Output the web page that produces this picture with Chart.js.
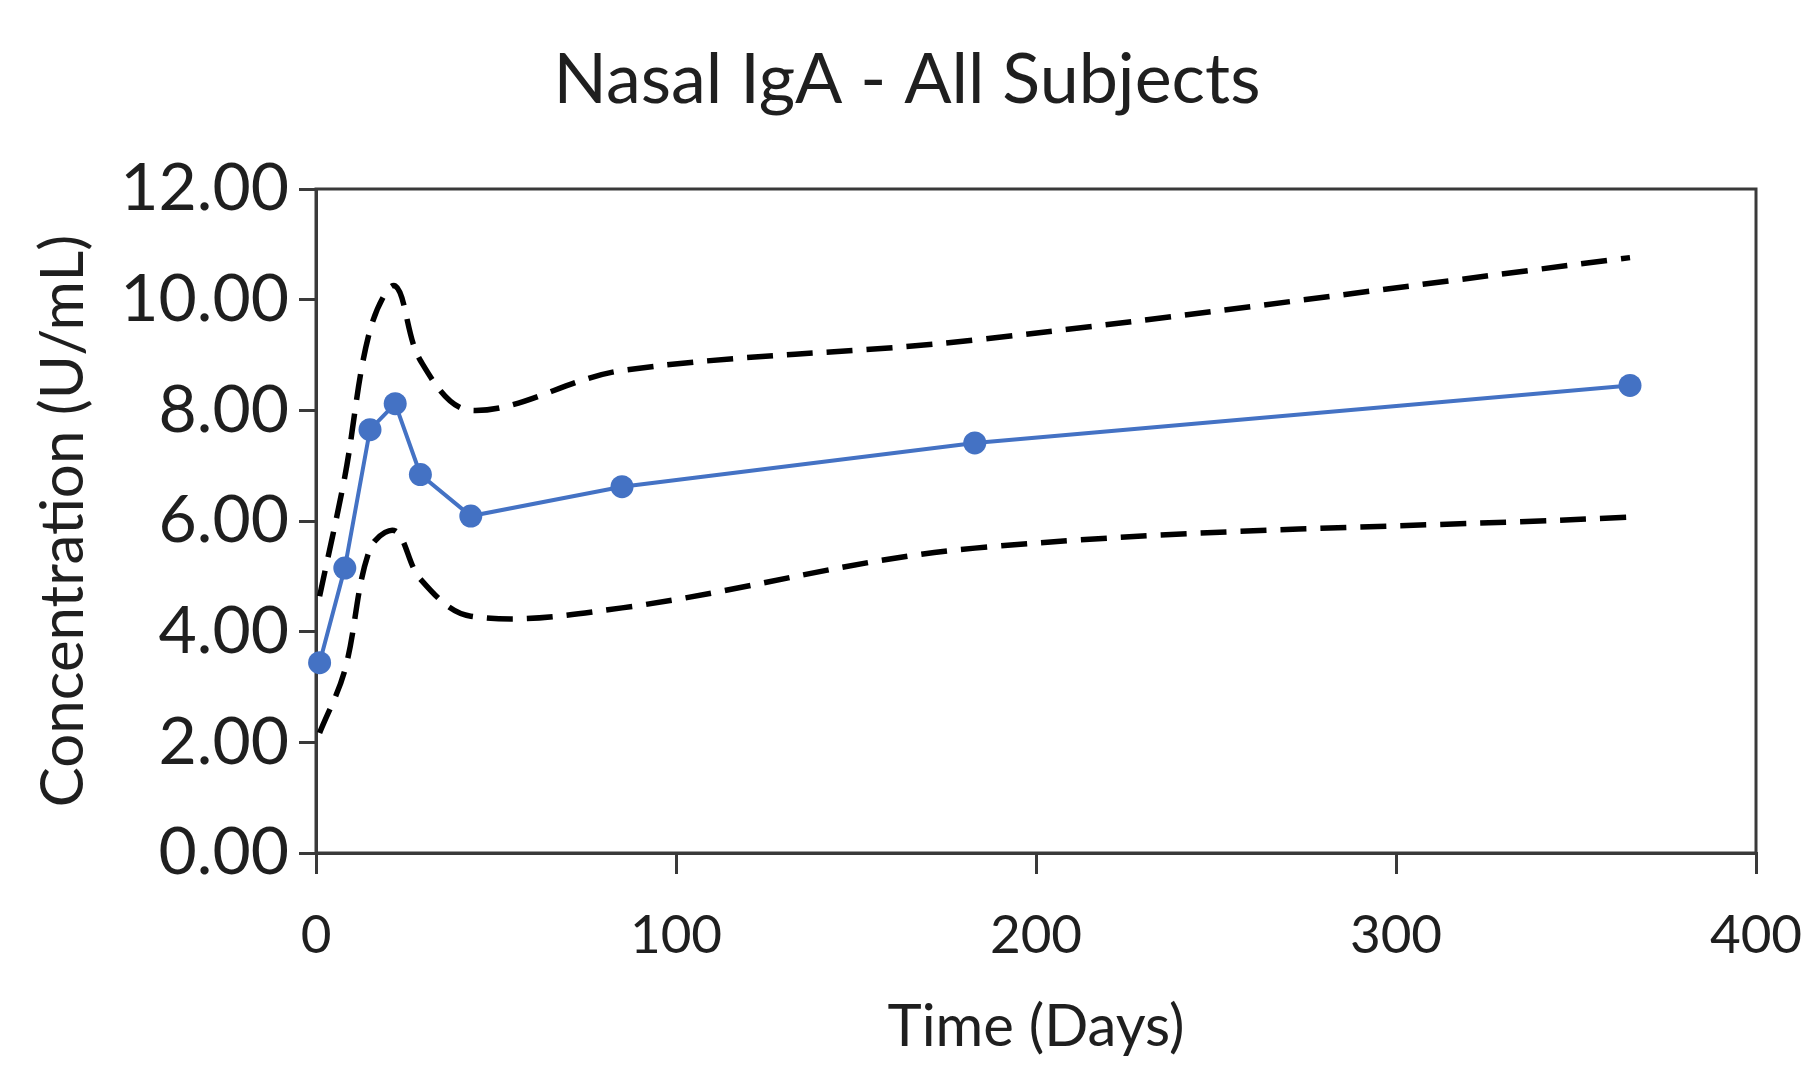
<!DOCTYPE html>
<html>
<head>
<meta charset="utf-8">
<script src="https://cdn.jsdelivr.net/npm/chart.js@4"></script>
<style>
  html, body { margin: 0; padding: 0; background: #fff; }
  #wrap { width: 1814px; height: 1082px; }
</style>
</head>
<body>
<div id="wrap"><canvas id="chart"></canvas></div>
<script>
// days of sampling
const days = [1, 8, 15, 22, 29, 43, 85, 183, 365];
// mean concentration (U/mL)
const meanValues = [3.44, 5.15, 7.65, 8.12, 6.84, 6.09, 6.62, 7.41, 8.45];
// upper and lower bounds (dashed)
const upperValues = [4.64, 6.8, 9.45, 10.25, 8.9, 8.0, 8.72, 9.27, 10.76];
const lowerValues = [2.17, 3.3, 5.5, 5.82, 4.95, 4.28, 4.43, 5.51, 6.07];
const xTicks = [0, 100, 200, 300, 400];
const yTicks = [0, 2, 4, 6, 8, 10, 12];

const toPoints = vals => days.map((d, i) => ({ x: d, y: vals[i] }));

const textColor = '#1f1f1f';
const axisColor = '#3a3a3a';
const fontFamily = 'Lato, "Open Sans", sans-serif';

// box round the plot area (top and right edges)
const frame = {
    id: 'frame',
    beforeDatasetsDraw(chart) {
        const { ctx, chartArea: a } = chart;
        ctx.save();
        ctx.strokeStyle = axisColor;
        ctx.lineWidth = 3;
        ctx.strokeRect(a.left, a.top, a.right - a.left, a.bottom - a.top);
        ctx.restore();
    }
};

new Chart(document.getElementById('chart'), {
    type: 'line',
    data: {
        datasets: [
            {
                label: 'Upper',
                data: toPoints(upperValues),
                borderColor: '#000',
                borderWidth: 5.5,
                borderDash: [26, 14],
                pointRadius: 0,
                tension: 0.35,
                fill: false
            },
            {
                label: 'Lower',
                data: toPoints(lowerValues),
                borderColor: '#000',
                borderWidth: 5.5,
                borderDash: [26, 14],
                pointRadius: 0,
                tension: 0.35,
                fill: false
            },
            {
                label: 'Mean',
                data: toPoints(meanValues),
                borderColor: '#4472C4',
                backgroundColor: '#4472C4',
                borderWidth: 4,
                pointRadius: 11.5,
                pointBorderWidth: 0,
                pointBackgroundColor: '#4472C4',
                tension: 0,
                clip: false
            }
        ]
    },
    options: {
        responsive: true,
        maintainAspectRatio: false,
        animation: false,
        events: [],
        layout: { padding: 0 },
        plugins: {
            legend: { display: false },
            tooltip: { enabled: false },
            title: {
                display: true,
                text: 'Nasal IgA - All Subjects',
                color: textColor,
                font: { family: fontFamily, size: 70, weight: 'normal' },
                padding: { top: 38, bottom: 67 }
            }
        },
        scales: {
            x: {
                type: 'linear',
                min: 0,
                max: 400,
                afterBuildTicks: s => { s.ticks = xTicks.map(v => ({ value: v })); },
                afterFit: s => {
                    s.height = 229;
                    s.paddingLeft = 0;
                    s.paddingRight = 58;
                },
                ticks: {
                    color: textColor,
                    font: { family: fontFamily, size: 53 },
                    padding: 30,
                    maxRotation: 0
                },
                grid: {
                    drawOnChartArea: false,
                    drawTicks: true,
                    tickLength: 21,
                    color: axisColor,
                    lineWidth: 3
                },
                border: { display: true, color: axisColor, width: 3 },
                title: {
                    display: true,
                    text: 'Time (Days)',
                    color: textColor,
                    font: { family: fontFamily, size: 58 },
                    padding: { top: 0, bottom: 20 }
                }
            },
            y: {
                min: 0,
                max: 12,
                afterBuildTicks: s => { s.ticks = yTicks.map(v => ({ value: v })); },
                afterFit: s => {
                    s.width = 316;
                    s.paddingTop = 0;
                    s.paddingBottom = 0;
                },
                ticks: {
                    color: textColor,
                    font: { family: fontFamily, size: 66 },
                    padding: 10,
                    callback: v => v.toFixed(2)
                },
                grid: {
                    drawOnChartArea: false,
                    drawTicks: true,
                    tickLength: 17,
                    color: axisColor,
                    lineWidth: 3
                },
                border: { display: true, color: axisColor, width: 3 },
                title: {
                    display: true,
                    text: 'Concentration (U/mL)',
                    color: textColor,
                    font: { family: fontFamily, size: 60 },
                    padding: { top: 28, bottom: 0 }
                }
            }
        }
    },
    plugins: [frame]
});
</script>
</body>
</html>
